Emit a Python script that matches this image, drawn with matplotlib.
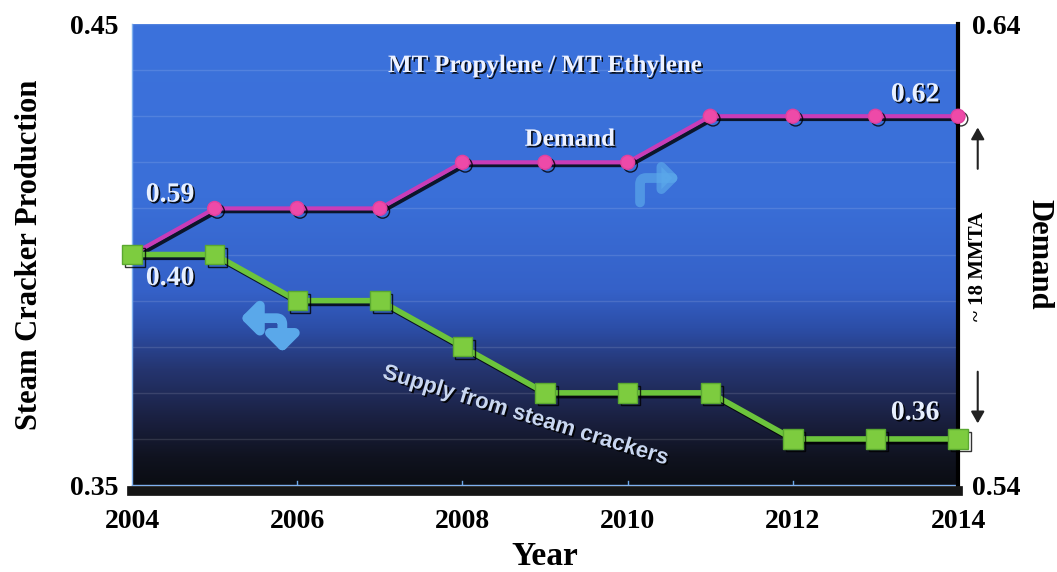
import numpy as np
import matplotlib
matplotlib.use('Agg')
import matplotlib.pyplot as plt
import matplotlib.patheffects as pe
from matplotlib.colors import LinearSegmentedColormap
from matplotlib.patches import FancyArrowPatch

# Dados
anos = [2004, 2005, 2006, 2007, 2008, 2009, 2010, 2011, 2012, 2013, 2014]
oferta = [0.40, 0.40, 0.39, 0.39, 0.38, 0.37, 0.37, 0.37, 0.36, 0.36, 0.36]
demanda = [0.59, 0.60, 0.60, 0.60, 0.61, 0.61, 0.61, 0.62, 0.62, 0.62, 0.62]
anos_ticks = [2004, 2006, 2008, 2010, 2012, 2014]
lim_esq = [0.35, 0.45]
lim_dir = [0.54, 0.64]

plt.rcParams['font.family'] = ['Liberation Serif', 'DejaVu Serif']

fig = plt.figure(figsize=(10.57, 5.72), dpi=100)
pos = [0.1249, 0.152, 0.7815, 0.806]

# Eixo de fundo só para o degradê azul -> preto
ax_bg = fig.add_axes(pos, zorder=0)
fundo = LinearSegmentedColormap.from_list(
    'fundo', [(0.0, '#0b0d13'), (0.06, '#101320'), (0.14, '#1a2040'),
              (0.25, '#253570'), (0.34, '#2c4ea8'), (0.42, '#3561c8'),
              (0.62, '#3a6fd8'), (1.0, '#3c72dc')])
grad = np.linspace(0, 1, 256).reshape(-1, 1)
ax_bg.imshow(grad, aspect='auto', cmap=fundo, origin='lower',
             extent=[anos[0], anos[-1], lim_esq[0], lim_esq[1]])
ax_bg.set_xlim(anos[0], anos[-1])
ax_bg.set_ylim(*lim_esq)
for y in np.arange(0.36, 0.45, 0.01):
    ax_bg.axhline(y, color='white', alpha=0.12, lw=1)
ax_bg.set_xticks([])
ax_bg.set_yticks([])
for lado in ['top', 'right']:
    ax_bg.spines[lado].set_visible(False)
for lado in ['left', 'bottom']:
    ax_bg.spines[lado].set_color('#7fb0ee')
    ax_bg.spines[lado].set_linewidth(1)

ax = fig.add_axes(pos, zorder=2)
ax.patch.set_visible(False)
ax2 = ax.twinx()
ax2.set_zorder(1)

ax.set_xlim(anos[0], anos[-1])
ax.set_ylim(*lim_esq)
ax2.set_ylim(*lim_dir)

sombra = [pe.SimpleLineShadow(offset=(2, -2), shadow_color='black', alpha=0.8), pe.Normal()]

ax.plot(anos, oferta, color='#6cc43c', lw=4, marker='s', markersize=14,
        markerfacecolor='#7dcc3f', markeredgecolor='#5aa830', zorder=5,
        path_effects=sombra, clip_on=False)
ax2.plot(anos, demanda, color='#c83cb8', lw=3, marker='o', markersize=10,
         markerfacecolor='#ee4aa8', markeredgecolor='#e0409f', zorder=5,
         path_effects=sombra, clip_on=False)

# Eixos
for a in (ax, ax2):
    for lado in ['top', 'left', 'right', 'bottom']:
        a.spines[lado].set_visible(False)
ax2.spines['right'].set_visible(True)
ax2.spines['right'].set_color('black')
ax2.spines['right'].set_linewidth(3)
ax.spines['bottom'].set_visible(True)
ax.spines['bottom'].set_color('#151515')
ax.spines['bottom'].set_linewidth(7)
ax.spines['bottom'].set_position(('outward', 4))

ax.set_xticks(anos_ticks)
ax.set_xticklabels([str(a) for a in anos_ticks], fontsize=20, fontweight='bold')
ax.tick_params(axis='x', length=0, pad=13)
for xt in anos_ticks[1:-1]:
    ax.plot([xt, xt], [lim_esq[0], lim_esq[0] + 0.0008], color='#6fa8e8', lw=1, zorder=2)

ax.set_yticks(lim_esq)
ax.set_yticklabels([f'{v:.2f}' for v in lim_esq], fontsize=20, fontweight='bold')
ax.tick_params(axis='y', length=0, pad=10)
ax2.set_yticks(lim_dir)
ax2.set_yticklabels([f'{v:.2f}' for v in lim_dir], fontsize=20, fontweight='bold')
ax2.tick_params(axis='y', length=0, pad=10)

ax.set_xlabel('Year', fontsize=24, fontweight='bold', labelpad=5)
fig.text(0.028, 0.555, 'Steam Cracker Production', rotation=90, ha='center', va='center',
         fontsize=22, fontweight='bold')
fig.text(0.983, 0.555, 'Demand', rotation=270, ha='center', va='center',
         fontsize=22, fontweight='bold')

# Textos internos
sombra_txt = [pe.withSimplePatchShadow(offset=(1.2, -1.2), shadow_rgbFace='black', alpha=0.9)]
ax.text(0.5, 0.91, 'MT Propylene / MT Ethylene', transform=ax.transAxes, ha='center',
        va='center', color='#eef2ff', fontsize=18, fontweight='bold', path_effects=sombra_txt)
ax2.text(2009.3, 0.6150, 'Demand', ha='center', va='center', color='#eef2ff',
         fontsize=18, fontweight='bold', path_effects=sombra_txt)
ax2.text(2004.46, demanda[0] + 0.0129, f'{demanda[0]:.2f}', ha='center', va='center',
         color='#e8f0ff', fontsize=20, fontweight='bold', path_effects=sombra_txt)
ax2.text(2013.48, demanda[-1] + 0.0046, f'{demanda[-1]:.2f}', ha='center', va='center',
         color='#e8f0ff', fontsize=20, fontweight='bold', path_effects=sombra_txt)
ax.text(2004.46, oferta[0] - 0.0052, f'{oferta[0]:.2f}', ha='center', va='center',
        color='#e8f0ff', fontsize=20, fontweight='bold', path_effects=sombra_txt)
ax.text(2013.48, oferta[-1] + 0.0056, f'{oferta[-1]:.2f}', ha='center', va='center',
        color='#e8f0ff', fontsize=20, fontweight='bold', path_effects=sombra_txt)
ax.text(2008.76, 0.3650, 'Supply from steam crackers', ha='center', va='center',
        rotation=-17, color='#c8d6f0', fontsize=16, fontweight='bold',
        family=['Liberation Sans', 'DejaVu Sans'], path_effects=sombra_txt)

# Setas curvas azul-claras indicando os eixos
seta_esq = FancyArrowPatch((2005.28, 0.3862), (2005.82, 0.3782),
                           arrowstyle='<|-|>,head_length=9,head_width=9',
                           connectionstyle='angle,angleA=0,angleB=90,rad=6',
                           color='#5aa8ea', lw=7, zorder=4)
ax.add_patch(seta_esq)
seta_dir = FancyArrowPatch((2010.15, 0.6007), (2010.66, 0.6066),
                           arrowstyle='-|>,head_length=8,head_width=8',
                           connectionstyle='angle,angleA=90,angleB=0,rad=6',
                           color='#5aa8ea', lw=7, alpha=0.7, zorder=4)
ax2.add_patch(seta_dir)

# Anotação de ~18 MMTA à direita
fig.text(0.925, 0.535, '~ 18 MMTA', rotation=90, ha='center', va='center',
         fontsize=15, fontweight='bold')
fig.add_artist(FancyArrowPatch((0.925, 0.70), (0.925, 0.782), transform=fig.transFigure,
                               arrowstyle='-|>,head_length=7,head_width=4',
                               color='#222222', lw=1.5))
fig.add_artist(FancyArrowPatch((0.925, 0.355), (0.925, 0.255), transform=fig.transFigure,
                               arrowstyle='-|>,head_length=7,head_width=4',
                               color='#222222', lw=1.5))

fig.savefig('out.png', dpi=100)
